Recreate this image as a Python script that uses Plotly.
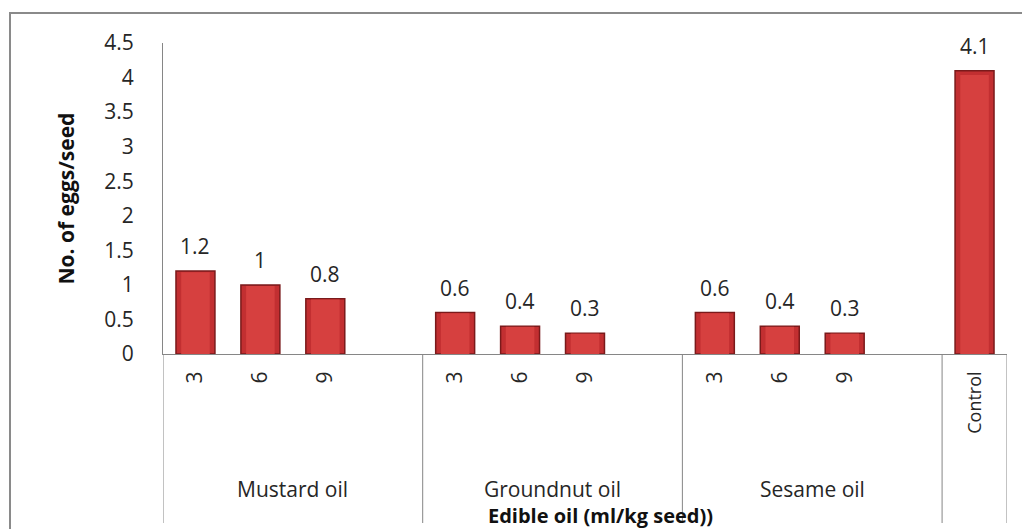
import plotly.graph_objects as go

# Egg counts per seed for each edible oil at three doses (ml/kg seed), plus the untreated control
groups = ["Mustard oil", "Groundnut oil", "Sesame oil", "Control"]
doses = ["3", "6", "9"]
mustard = [1.2, 1.0, 0.8]
groundnut = [0.6, 0.4, 0.3]
sesame = [0.6, 0.4, 0.3]
control = [4.1]
y_ticks = [0, 0.5, 1, 1.5, 2, 2.5, 3, 3.5, 4, 4.5]

# Each oil group occupies four category slots (three doses + a spacer); control takes one
slots_per_group = len(doses) + 1
series = [mustard, groundnut, sesame]

xs, ys, tick_text = [], [], []
for g, vals in enumerate(series):
    for i, v in enumerate(vals):
        xs.append(g * slots_per_group + i + 0.5)
        ys.append(v)
        tick_text.append(doses[i])
control_pos = len(series) * slots_per_group + 0.5
xs.append(control_pos)
ys.append(control[0])
tick_text.append('<span style="font-size:18px">' + groups[3] + "</span>")
n_slots = len(series) * slots_per_group + 1

FONT = "Open Sans"
GREY = "#868686"
TXT = "#262626"

fig = go.Figure()
fig.add_trace(go.Bar(
    x=xs, y=ys, width=0.6,
    marker=dict(color="#c22f31", line=dict(color="#7a1a1b", width=1.5)),
    hoverinfo="x+y",
))
# lighter face inside each bar for the bevelled look
fig.add_trace(go.Bar(
    x=xs, y=[v * 0.985 for v in ys], width=0.44,
    marker=dict(color="#d6403f", line=dict(width=0)),
    hoverinfo="skip",
))

# value labels above each bar
for x, v in zip(xs, ys):
    fig.add_annotation(x=x, y=v, xref="x", yref="y", text=f"{v:g}", showarrow=False,
                       yanchor="bottom", yshift=9,
                       font=dict(family=FONT, size=21, color=TXT))

fig.update_layout(
    barmode="overlay",
    showlegend=False,
    width=1022, height=529,
    margin=dict(l=163, r=15, t=43, b=175),
    plot_bgcolor="white", paper_bgcolor="white",
    font=dict(family=FONT, color=TXT),
)
fig.update_xaxes(
    range=[0, n_slots], tickmode="array", tickvals=xs, ticktext=tick_text,
    tickangle=-90, tickfont=dict(family=FONT, size=21, color=TXT),
    showline=True, linecolor=GREY, linewidth=1, ticks="",
    ticklabelstandoff=8, showgrid=False, zeroline=False, fixedrange=True,
)
fig.update_yaxes(
    range=[0, 4.5], tickmode="array", tickvals=y_ticks,
    ticktext=[f"{t:g}" for t in y_ticks],
    tickfont=dict(family=FONT, size=21, color=TXT),
    showline=True, linecolor=GREY, linewidth=1, ticks="",
    ticklabelstandoff=24, showgrid=False, zeroline=False, fixedrange=True,
)

plot_h = 529 - 43 - 175
plot_w = 1022 - 163 - 15
div_bottom = -(523 - 354) / plot_h

# group dividers below the category axis, including the axis extensions at both ends
for xb in [0] + [g * slots_per_group for g in range(1, len(series) + 1)] + [n_slots]:
    fig.add_shape(type="line", xref="x", yref="paper", x0=xb, x1=xb, y0=0, y1=div_bottom,
                  line=dict(color=GREY, width=1))

# group names under each block of doses
for g, name in enumerate(groups[:3]):
    fig.add_annotation(x=g * slots_per_group + slots_per_group / 2, y=-(489 - 354) / plot_h,
                       xref="x", yref="paper", text=name, showarrow=False,
                       font=dict(family=FONT, size=21, color=TXT), yanchor="middle")

# axis titles
fig.add_annotation(x=(600 - 163) / plot_w, y=-(531 - 354) / plot_h, xref="paper", yref="paper",
                   text="<b>Edible oil (ml/kg seed))</b>", showarrow=False,
                   font=dict(family=FONT, size=20, color="#111"), yanchor="bottom")
fig.add_annotation(x=-(163 - 65) / plot_w, y=0.5, xref="paper", yref="paper",
                   text="<b>No. of eggs/seed</b>", textangle=-90, showarrow=False,
                   font=dict(family=FONT, size=21, color="#111"), xanchor="center")

# outer chart frame
fig.add_shape(type="rect", xref="paper", yref="paper",
              x0=-(163 - 10) / plot_w, x1=1.2, y0=-1.0, y1=(354 - 13) / plot_h,
              line=dict(color="#8a8a8a", width=2), layer="below")

fig.write_html("out.html")
